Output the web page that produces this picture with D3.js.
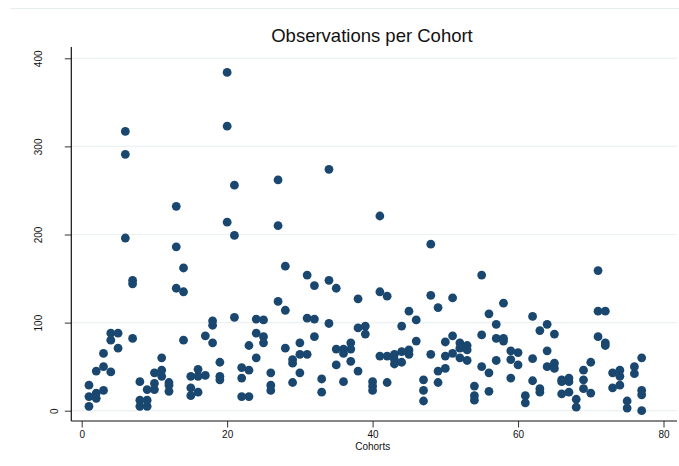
<!DOCTYPE html>
<html>
<head>
<meta charset="utf-8">
<script src="https://cdn.jsdelivr.net/npm/d3@7"></script>
<style>
  body { margin: 0; background: #fff; }
  svg { display: block; font-family: "Liberation Sans", Arial, sans-serif; }
</style>
</head>
<body>
<div id="chart"></div>
<script>
// observations per cohort (several draws per cohort)
const cohorts = d3.range(1, 78);
const observations = [
  [29, 16, 5], [45, 20, 14], [65, 50, 23], [88, 80, 44], [88, 71],
  [317, 291, 196], [148, 144, 82], [33, 12, 5], [24, 12, 5], [43, 31, 24],
  [60, 46, 39], [32, 29, 22], [232, 186, 139], [162, 135, 80], [39, 26, 17],
  [47, 39, 21], [85, 40], [102, 97, 77], [55, 39, 35], [384, 323, 214],
  [256, 199, 106], [49, 37, 16], [74, 46, 16], [104, 88, 60], [103, 84, 77],
  [43, 29, 23], [262, 210, 124], [164, 114, 71], [58, 54, 32], [77, 64, 43],
  [154, 105, 64], [142, 104, 84], [36, 21], [274, 148, 99], [139, 70, 52],
  [70, 65, 33], [77, 70, 56], [127, 94, 45], [96, 87], [33, 28, 23],
  [221, 135, 62], [130, 62, 32], [64, 58, 53], [96, 67, 55], [113, 69, 64],
  [103, 79], [35, 23, 11], [189, 131, 64], [117, 45, 32], [78, 62, 48],
  [128, 85, 65], [77, 71, 60], [74, 69, 57], [28, 17, 12], [154, 86, 50],
  [110, 43, 22], [98, 82, 57], [122, 82, 79], [68, 58, 37], [66, 52],
  [17, 9], [107, 59, 34], [91, 25, 21], [98, 68, 50], [87, 54, 48],
  [35, 33, 19], [37, 33, 21], [13, 4], [46, 35, 25], [55, 20],
  [159, 113, 84], [113, 77, 74], [43, 26], [46, 39, 29], [11, 3],
  [50, 42], [60, 23, 18, 0]
];
const xTicks = [0, 20, 40, 60, 80];
const yTicks = [0, 100, 200, 300, 400];

const points = [];
cohorts.forEach((c, i) => observations[i].forEach(v => points.push({ cohort: c, value: v })));

const W = 679, H = 466;
const plot = { left: 71.3, right: 677, top: 47, bottom: 421 };

const svg = d3.select('#chart').append('svg')
  .attr('width', W)
  .attr('height', H);

const x = d3.scaleLinear().domain([0, 80]).range([81.7, 663.5]);
const y = d3.scaleLinear().domain([0, 400]).range([410.7, 58.3]);

// faint border line at the top
svg.append('line')
  .attr('x1', 10).attr('x2', W)
  .attr('y1', 8.5).attr('y2', 8.5)
  .attr('stroke', '#e6eef0').attr('stroke-width', 1);

// grid
svg.append('g')
  .selectAll('line')
  .data(yTicks)
  .join('line')
  .attr('x1', plot.left).attr('x2', plot.right)
  .attr('y1', d => y(d)).attr('y2', d => y(d))
  .attr('stroke', '#eaf2f3').attr('stroke-width', 1.2);

// y axis
const yAxis = svg.append('g')
  .attr('transform', `translate(${plot.left},0)`)
  .call(d3.axisLeft(y).tickValues(yTicks).tickSize(6.5).tickPadding(0));
yAxis.select('.domain').remove();
yAxis.selectAll('.tick line').attr('stroke', '#333');
yAxis.selectAll('.tick text')
  .attr('x', null).attr('dy', '0.35em')
  .attr('text-anchor', 'middle')
  .attr('transform', d => `translate(${-9 - 8 * String(d).length},0) rotate(-90)`)
  .attr('font-size', 10)
  .attr('fill', '#111');

// x axis
const xAxis = svg.append('g')
  .attr('transform', `translate(0,${plot.bottom})`)
  .call(d3.axisBottom(x).tickValues(xTicks).tickSize(6.5).tickPadding(3));
xAxis.select('.domain').remove();
xAxis.selectAll('.tick line').attr('stroke', '#333');
xAxis.selectAll('.tick text')
  .attr('font-size', 10)
  .attr('fill', '#111');

// axis lines
svg.append('line')
  .attr('x1', plot.left).attr('x2', plot.left)
  .attr('y1', plot.top).attr('y2', plot.bottom)
  .attr('stroke', '#111').attr('stroke-width', 1.2);
svg.append('line')
  .attr('x1', plot.left).attr('x2', plot.right)
  .attr('y1', plot.bottom).attr('y2', plot.bottom)
  .attr('stroke', '#111').attr('stroke-width', 1.2);

// points
svg.append('g')
  .selectAll('circle')
  .data(points)
  .join('circle')
  .attr('cx', d => x(d.cohort))
  .attr('cy', d => y(d.value))
  .attr('r', 4.4)
  .attr('fill', '#1a476f');

// labels
svg.append('text')
  .attr('x', 372).attr('y', 42)
  .attr('text-anchor', 'middle')
  .attr('font-size', 18.5)
  .attr('fill', '#111')
  .text('Observations per Cohort');

svg.append('text')
  .attr('x', 372.7).attr('y', 449.5)
  .attr('text-anchor', 'middle')
  .attr('font-size', 10)
  .attr('fill', '#111')
  .text('Cohorts');
</script>
</body>
</html>
